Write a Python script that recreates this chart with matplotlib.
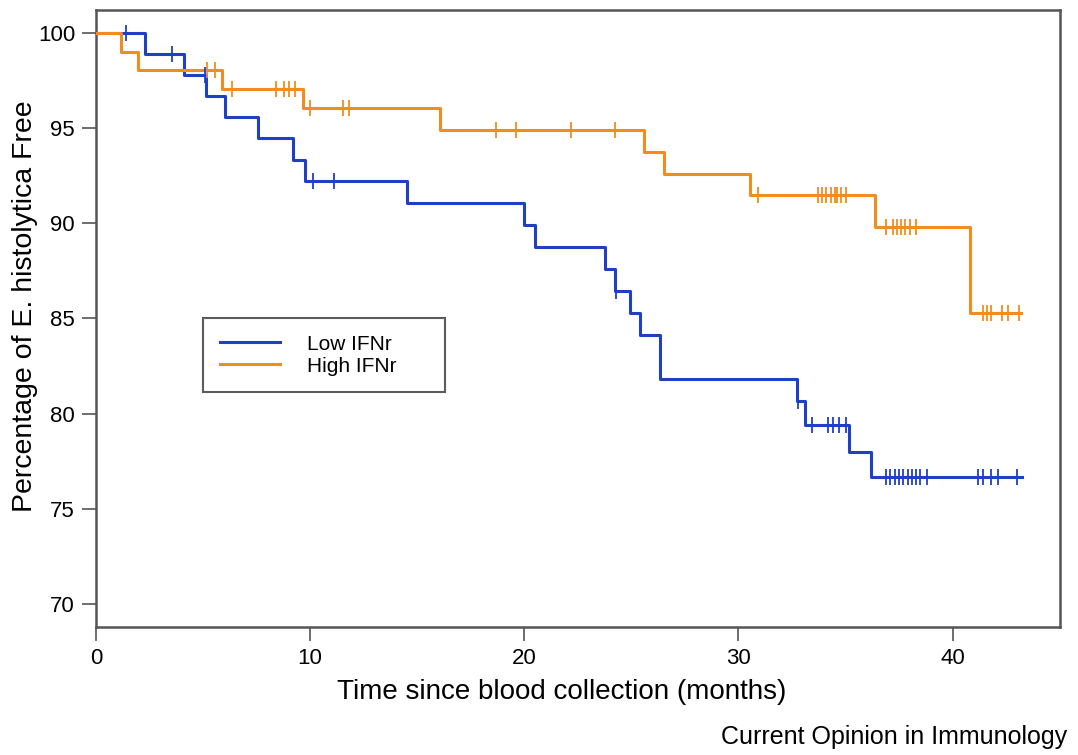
import numpy as np
import matplotlib
matplotlib.use("Agg")
import matplotlib.pyplot as plt

plt.rcParams['font.family'] = ['Liberation Sans', 'DejaVu Sans']

# Kaplan-Meier steps (months, percent free)
low_times = [0, 2.3, 4.13, 5.14, 6.03, 7.59, 9.18, 9.77, 14.52, 19.97, 20.48,
             23.79, 24.25, 24.95, 25.42, 26.36, 32.74, 33.13, 35.15, 36.21]
low_surv = [100, 98.9, 97.8, 96.7, 95.6, 94.5, 93.3, 92.2, 91.05, 89.9, 88.75,
            87.6, 86.45, 85.3, 84.15, 81.8, 80.65, 79.4, 78.0, 76.7]
low_end = 43.26
low_censor = [1.4, 3.55, 5.1, 10.15, 11.1, 24.3, 32.8, 33.45, 34.2, 34.4, 34.7,
              35.0, 36.9, 37.1, 37.3, 37.5, 37.7, 37.9, 38.1, 38.3, 38.5, 38.8,
              41.2, 41.4, 41.8, 42.1, 43.0]

high_times = [0, 1.15, 1.95, 5.87, 9.65, 16.07, 25.58, 26.51, 30.56, 36.4, 40.8]
high_surv = [100, 99.0, 98.05, 97.05, 96.05, 94.9, 93.75, 92.6, 91.5, 89.8, 85.3]
high_end = 43.2
high_censor = [5.2, 5.55, 6.35, 8.4, 8.8, 9.0, 9.3, 10.0, 11.55, 11.8, 18.7,
               19.6, 22.2, 24.25, 30.9, 33.7, 33.9, 34.1, 34.3, 34.5, 34.6,
               34.8, 35.0, 36.9, 37.2, 37.4, 37.6, 37.8, 38.0, 38.3, 41.4,
               41.6, 41.8, 42.3, 42.6, 43.1]

blue = '#1f3fc4'
orange = '#f28c1e'


def km_curve(ax, times, surv, end, censor, color, label):
    t = list(times) + [end]
    s = list(surv) + [surv[-1]]
    ax.step(t, s, where='post', color=color, lw=2.2, label=label, zorder=3)
    # value of the step function at each censor time
    idx = np.searchsorted(times, censor, side='right') - 1
    cy = np.array(surv)[idx]
    ax.plot(censor, cy, ls='none', marker='|', ms=12, mew=1.3,
            color=color, zorder=4)


fig = plt.figure(figsize=(10.78, 7.55), dpi=100)
ax = fig.add_axes([0.089, 0.1695, 0.894, 0.8173])

km_curve(ax, low_times, low_surv, low_end, low_censor, blue, 'Low IFNr')
km_curve(ax, high_times, high_surv, high_end, high_censor, orange, 'High IFNr')

ax.set_xlim(0, 45)
ax.set_ylim(68.8, 101.2)
ax.set_xticks([0, 10, 20, 30, 40])
ax.set_yticks([70, 75, 80, 85, 90, 95, 100])

for sp in ax.spines.values():
    sp.set_color('#555555')
    sp.set_linewidth(1.8)
ax.tick_params(direction='out', length=10, width=1.2, color='#555555',
               labelsize=16, pad=5)

ax.set_xlabel('Time since blood collection (months)', fontsize=20)
ax.xaxis.set_label_coords(0.483, -0.085)
ax.set_ylabel('Percentage of E. histolytica Free', fontsize=20.5)
ax.yaxis.set_label_coords(-0.060, 0.52)

leg = ax.legend(loc='upper left', bbox_to_anchor=(0.111, 0.401, 0.251, 0.1),
                mode='expand', fontsize=15, frameon=True, fancybox=False,
                edgecolor='#333333', handlelength=2.9, borderpad=0.8,
                labelspacing=0.15, handletextpad=1.3, borderaxespad=0)
leg.get_frame().set_linewidth(1.5)

fig.text(0.99, 0.008, 'Current Opinion in Immunology', ha='right',
         va='bottom', fontsize=18)

fig.savefig('out.png', dpi=100)
